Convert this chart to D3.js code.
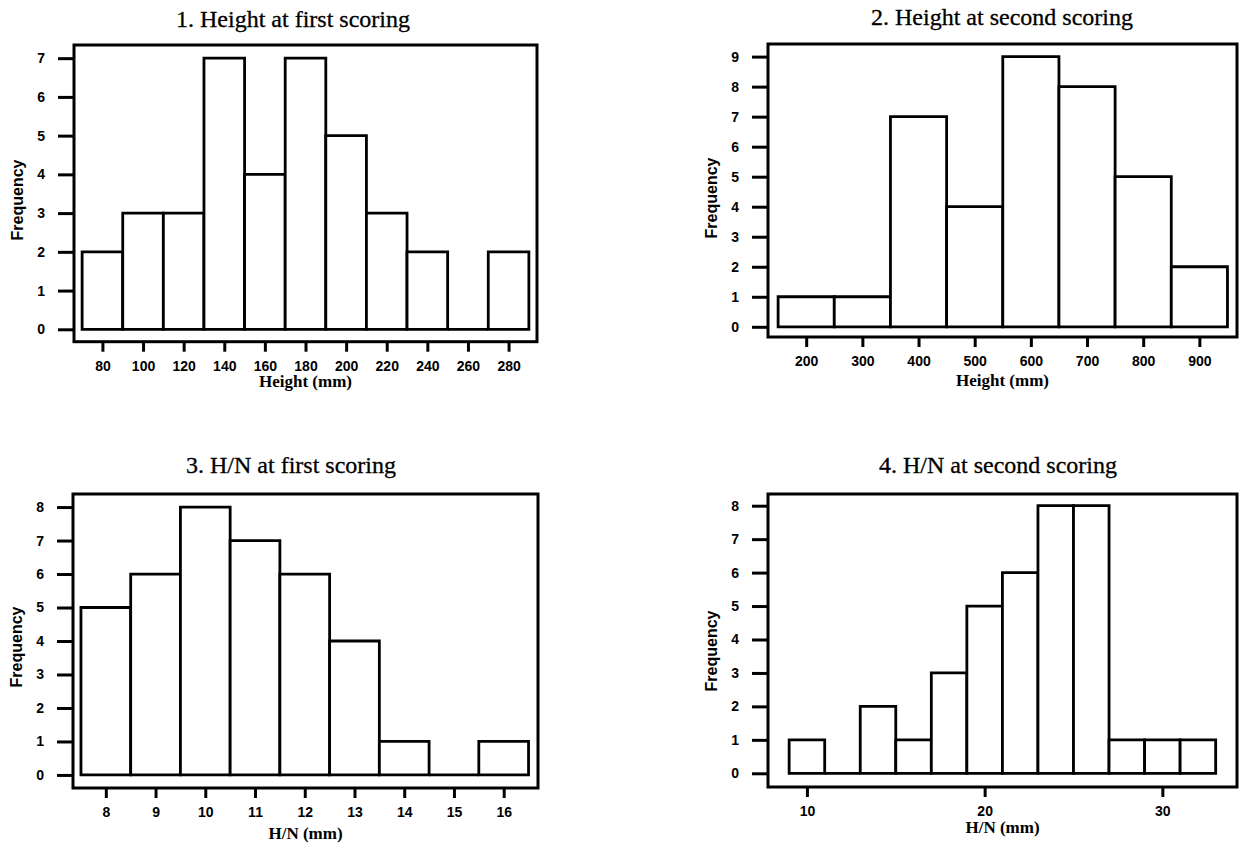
<!DOCTYPE html>
<html>
<head>
<meta charset="utf-8">
<script src="https://cdn.jsdelivr.net/npm/d3@7"></script>
<style>
  body { margin: 0; background: #fff; }
  svg { display: block; }
</style>
</head>
<body>
<script>
// 1. Height at first scoring
const h1Edges = [70, 90, 110, 130, 150, 170, 190, 210, 230, 250, 270, 290];
const h1Counts = [2, 3, 3, 7, 4, 7, 5, 3, 2, 0, 2];
const h1Ticks = [80, 100, 120, 140, 160, 180, 200, 220, 240, 260, 280];

// 2. Height at second scoring
const h2Edges = [150, 250, 350, 450, 550, 650, 750, 850, 950];
const h2Counts = [1, 1, 7, 4, 9, 8, 5, 2];
const h2Ticks = [200, 300, 400, 500, 600, 700, 800, 900];

// 3. H/N at first scoring
const n1Edges = [7.5, 8.5, 9.5, 10.5, 11.5, 12.5, 13.5, 14.5, 15.5, 16.5];
const n1Counts = [5, 6, 8, 7, 6, 4, 1, 0, 1];
const n1Ticks = [8, 9, 10, 11, 12, 13, 14, 15, 16];

// 4. H/N at second scoring
const n2Edges = [9, 11, 13, 15, 17, 19, 21, 23, 25, 27, 29, 31, 33];
const n2Counts = [1, 0, 2, 1, 3, 5, 6, 8, 8, 1, 1, 1];
const n2Ticks = [10, 20, 30];

const panels = [
    { title: '1. Height at first scoring', xLabel: 'Height (mm)',
      edges: h1Edges, counts: h1Counts, xTicks: h1Ticks, yMax: 7,
      xDomain: [66, 294], yDomain: [-0.32, 7.34],
      box: { x0: 74, y0: 45, x1: 537, y1: 341.7 },
      titleX: 293, titleY: 27, xLabelY: 387, freqY: 200 },
    { title: '2. Height at second scoring', xLabel: 'Height (mm)',
      edges: h2Edges, counts: h2Counts, xTicks: h2Ticks, yMax: 9,
      xDomain: [132, 967], yDomain: [-0.34, 9.42],
      box: { x0: 768, y0: 44, x1: 1237, y1: 337 },
      titleX: 1002, titleY: 25, xLabelY: 386, freqY: 198 },
    { title: '3. H/N at first scoring', xLabel: 'H/N (mm)',
      edges: n1Edges, counts: n1Counts, xTicks: n1Ticks, yMax: 8,
      xDomain: [7.34, 16.69], yDomain: [-0.39, 8.39],
      box: { x0: 73, y0: 494, x1: 538, y1: 788 },
      titleX: 291, titleY: 473, xLabelY: 839, freqY: 647 },
    { title: '4. H/N at second scoring', xLabel: 'H/N (mm)',
      edges: n2Edges, counts: n2Counts, xTicks: n2Ticks, yMax: 8,
      xDomain: [7.81, 34.2], yDomain: [-0.41, 8.35],
      box: { x0: 768, y0: 494, x1: 1237, y1: 787 },
      titleX: 998, titleY: 473, xLabelY: 833, freqY: 651 }
];

const svg = d3.select('body').append('svg')
    .attr('width', 1243)
    .attr('height', 846);

const drawPanel = (p) => {
    const x = d3.scaleLinear().domain(p.xDomain).range([p.box.x0, p.box.x1]);
    const y = d3.scaleLinear().domain(p.yDomain).range([p.box.y1, p.box.y0]);
    const g = svg.append('g');

    const bins = p.counts.map((n, i) => ({ x0: p.edges[i], x1: p.edges[i + 1], n: n }));

    // bars (a zero bin still draws its base line)
    g.selectAll('path.bar')
        .data(bins)
        .join('path')
        .attr('class', 'bar')
        .attr('d', b => `M${x(b.x0)},${y(0)}V${y(b.n)}H${x(b.x1)}V${y(0)}Z`)
        .attr('fill', '#fff')
        .attr('stroke', '#000')
        .attr('stroke-width', 2.8)
        .attr('stroke-linejoin', 'miter');

    // frame
    g.append('rect')
        .attr('x', p.box.x0)
        .attr('y', p.box.y0)
        .attr('width', p.box.x1 - p.box.x0)
        .attr('height', p.box.y1 - p.box.y0)
        .attr('fill', 'none')
        .attr('stroke', '#000')
        .attr('stroke-width', 3);

    const yAxis = g.append('g')
        .attr('transform', `translate(${p.box.x0},0)`)
        .call(d3.axisLeft(y)
            .tickValues(d3.range(0, p.yMax + 1))
            .tickFormat(d3.format('d'))
            .tickSize(16)
            .tickPadding(13));

    const xAxis = g.append('g')
        .attr('transform', `translate(0,${p.box.y1})`)
        .call(d3.axisBottom(x)
            .tickValues(p.xTicks)
            .tickFormat(d3.format('d'))
            .tickSize(10)
            .tickPadding(9));

    [yAxis, xAxis].forEach(a => {
        a.select('.domain').remove();
        a.selectAll('line').attr('stroke', '#000').attr('stroke-width', 3);
        a.selectAll('text')
            .attr('fill', '#000')
            .style('font-family', '"Liberation Sans", Arial, sans-serif')
            .style('font-weight', 'bold')
            .style('font-size', '14px');
    });

    g.append('text')
        .attr('x', p.titleX)
        .attr('y', p.titleY)
        .attr('text-anchor', 'middle')
        .attr('stroke', '#000')
        .attr('stroke-width', 0.3)
        .style('font-family', '"Liberation Serif", "Times New Roman", serif')
        .style('font-size', '24px')
        .text(p.title);

    g.append('text')
        .attr('x', (p.box.x0 + p.box.x1) / 2)
        .attr('y', p.xLabelY)
        .attr('text-anchor', 'middle')
        .style('font-family', '"Liberation Serif", "Times New Roman", serif')
        .style('font-weight', 'bold')
        .style('font-size', '17px')
        .text(p.xLabel);

    g.append('text')
        .attr('transform', `translate(${p.box.x0 - 57},${p.freqY}) rotate(-90)`)
        .attr('text-anchor', 'middle')
        .attr('dy', '0.35em')
        .style('font-family', '"Liberation Sans", Arial, sans-serif')
        .style('font-weight', 'bold')
        .style('font-size', '16px')
        .text('Frequency');
};

panels.forEach(drawPanel);
</script>
</body>
</html>
